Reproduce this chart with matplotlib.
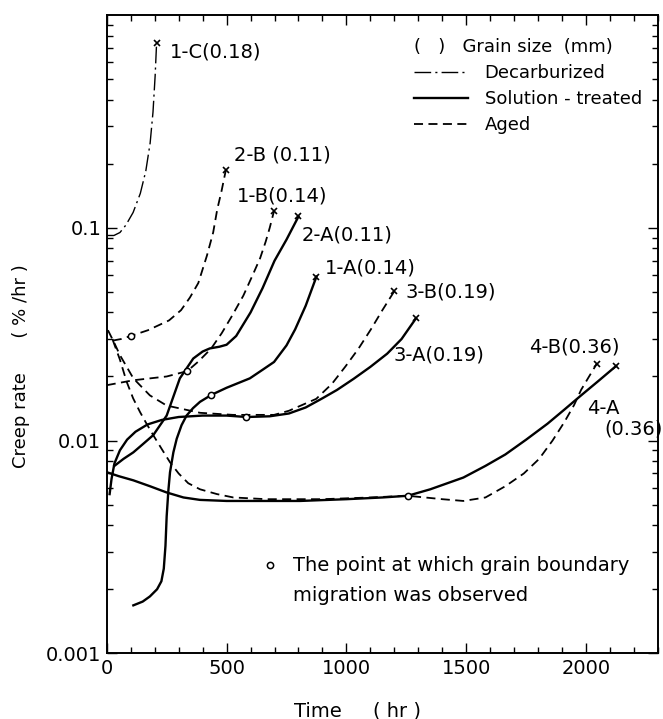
import matplotlib
matplotlib.use("Agg")
import matplotlib.pyplot as plt
from matplotlib.lines import Line2D
from matplotlib.ticker import FixedLocator, NullFormatter, LogLocator, MultipleLocator


# curves: time (hr), creep rate (%/hr)
t_1c = [0, 30, 55, 80, 110, 140, 163, 181, 193, 202, 208]
v_1c = [0.092, 0.092, 0.095, 0.103, 0.118, 0.145, 0.185, 0.25, 0.35, 0.52, 0.74]

t_2b = [25, 60, 100, 172, 260, 310, 347, 382, 418, 444, 461, 479, 497]
v_2b = [0.0295, 0.030, 0.031, 0.033, 0.0367, 0.041, 0.047, 0.055, 0.074,
        0.095, 0.122, 0.149, 0.187]

t_1b = [0, 111, 250, 336, 382, 435, 480, 523, 570, 611, 640, 663, 680, 698]
v_1b = [0.0182, 0.0192, 0.0200, 0.0212, 0.0235, 0.027, 0.032, 0.0386,
        0.048, 0.0607, 0.072, 0.086, 0.100, 0.12]

t_2a = [32, 70, 111, 150, 194, 250, 305, 361, 400, 430, 470, 500, 540,
        600, 650, 700, 750, 800]
v_2a = [0.0076, 0.0082, 0.0088, 0.0096, 0.0106, 0.0131, 0.0196, 0.0243,
        0.0262, 0.0271, 0.0276, 0.0282, 0.031, 0.040, 0.052, 0.070, 0.088,
        0.113]

t_1a = [111, 150, 180, 210, 228, 238, 245, 250, 257, 264, 278, 292, 312,
        333, 360, 389, 437, 500, 597, 650, 698, 750, 786, 830, 875]
v_1a = [0.00168, 0.00175, 0.00185, 0.00200, 0.00218, 0.0025, 0.0032,
        0.0044, 0.0058, 0.0071, 0.0088, 0.0102, 0.0118, 0.0131, 0.0142,
        0.0152, 0.0164, 0.0177, 0.0196, 0.0215, 0.0234, 0.028, 0.0333,
        0.043, 0.059]

t_3b = [5, 30, 55, 111, 180, 250, 389, 527, 698, 760, 874, 940, 996, 1050,
        1102, 1150, 1200]
v_3b = [0.033, 0.029, 0.0252, 0.0196, 0.0163, 0.0146, 0.0135, 0.0132,
        0.0132, 0.0138, 0.0157, 0.0185, 0.0223, 0.027, 0.0333, 0.041, 0.0504]

t_3a = [12, 20, 32, 55, 85, 120, 170, 230, 300, 400, 500, 583, 680, 760,
        830, 900, 961, 1030, 1100, 1170, 1230, 1290]
v_3a = [0.0056, 0.0066, 0.0078, 0.0090, 0.0101, 0.0110, 0.0119, 0.0125,
        0.0129, 0.0131, 0.0131, 0.0129, 0.0130, 0.0134, 0.0143, 0.0158,
        0.0173, 0.0195, 0.0222, 0.0256, 0.0300, 0.0375]

t_4b = [25, 55, 83, 110, 139, 166, 194, 230, 264, 300, 340, 389, 460, 528,
        667, 900, 1100, 1256, 1400, 1488, 1580, 1663, 1740, 1804, 1860,
        1909, 1950, 1979, 2010, 2045]
v_4b = [0.0297, 0.0240, 0.0189, 0.0158, 0.0136, 0.0120, 0.0106, 0.0091,
        0.0079, 0.0070, 0.0063, 0.0059, 0.0056, 0.0054, 0.0053, 0.0053,
        0.0054, 0.0055, 0.0053, 0.0052, 0.0054, 0.0061, 0.0070, 0.0082,
        0.0100, 0.0122, 0.0147, 0.0173, 0.0198, 0.0230]

t_4a = [0, 50, 111, 180, 250, 320, 389, 500, 650, 806, 1000, 1150, 1256,
        1350, 1488, 1580, 1663, 1750, 1839, 1910, 1979, 2050, 2125]
v_4a = [0.0071, 0.0068, 0.0065, 0.0061, 0.0057, 0.0054, 0.00526, 0.0052,
        0.0052, 0.0052, 0.0053, 0.0054, 0.0055, 0.0059, 0.0067, 0.0076,
        0.0086, 0.0101, 0.0120, 0.0140, 0.0163, 0.0190, 0.0224]

# grain boundary migration observed
t_gb = [100, 336, 437, 583, 1256]
v_gb = [0.031, 0.0212, 0.0164, 0.0129, 0.0055]

# label text and where it sits (time, rate)
labels = ["1-C(0.18)", "2-B (0.11)", "1-B(0.14)", "2-A(0.11)", "1-A(0.14)",
          "3-B(0.19)", "3-A(0.19)", "4-B(0.36)", "4-A", "(0.36)"]
label_t = [265, 530, 545, 815, 912, 1248, 1195, 1760, 2005, 2075]
label_v = [0.67, 0.22, 0.141, 0.092, 0.065, 0.050, 0.0252, 0.0274, 0.0141,
           0.01135]

STYLES = {
    "dashdot": dict(color="black", lw=1.0, ls=(0, (12, 3, 1.5, 3))),
    "solid": dict(color="black", lw=1.7, ls="-"),
    "dashed": dict(color="black", lw=1.3, ls=(0, (5, 3))),
}

curves = [
    (t_1c, v_1c, "dashdot"),
    (t_2b, v_2b, "dashed"),
    (t_1b, v_1b, "dashed"),
    (t_2a, v_2a, "solid"),
    (t_1a, v_1a, "solid"),
    (t_3b, v_3b, "dashed"),
    (t_3a, v_3a, "solid"),
    (t_4b, v_4b, "dashed"),
    (t_4a, v_4a, "solid"),
]

fig = plt.figure(figsize=(6.63, 7.19), dpi=100)
ax = fig.add_axes([0.161, 0.0914, 0.8315, 0.8877])

for t, v, style in curves:
    ax.plot(t, v, **STYLES[style])
    ax.plot(t[-1], v[-1], marker="x", ms=5, mew=1.2, color="black", ls="none")

ax.plot(t_gb, v_gb, "o", ms=4.5, mfc="white", mec="black", mew=1.1)

for text, t, v in zip(labels, label_t, label_v):
    ax.text(t, v, text, fontsize=14, va="center", ha="left")

ax.set_yscale("log")
ax.set_xlim(0, 2300)
ax.set_ylim(0.001, 1.0)

ax.xaxis.set_major_locator(FixedLocator([0, 500, 1000, 1500, 2000]))
ax.xaxis.set_minor_locator(MultipleLocator(100))
ax.yaxis.set_major_locator(FixedLocator([0.001, 0.01, 0.1]))
ax.yaxis.set_minor_locator(LogLocator(base=10, subs=range(2, 10)))
ax.yaxis.set_minor_formatter(NullFormatter())
ax.set_yticklabels(["0.001", "0.01", "0.1"])

ax.tick_params(which="both", direction="in", top=True, right=True,
               labelsize=14, width=1.0)
ax.tick_params(which="major", length=7, pad=4)
ax.tick_params(which="minor", length=4)
for s in ax.spines.values():
    s.set_linewidth(1.4)

ax.set_xlabel("Time     ( hr )", fontsize=14)
ax.xaxis.set_label_coords(0.455, -0.075)
ax.set_ylabel("Creep rate      ( % /hr )", fontsize=13)
ax.yaxis.set_label_coords(-0.14, 0.45)

handles = [
    Line2D([], [], **STYLES["dashdot"]),
    Line2D([], [], **STYLES["solid"]),
    Line2D([], [], **STYLES["dashed"]),
]
leg = ax.legend(handles, ["Decarburized", "Solution - treated", "Aged"],
                title="(   )   Grain size  (mm)", title_fontsize=13,
                fontsize=13, loc="upper left", bbox_to_anchor=(0.535, 0.984),
                frameon=False, handlelength=3.0, handletextpad=0.9,
                labelspacing=0.45, alignment="left", borderpad=0.2)

# key for the open circles
ax.plot([0.296], [0.138], "o", ms=4.5, mfc="white", mec="black", mew=1.1,
        transform=ax.transAxes)
ax.text(0.338, 0.138, "The point at which grain boundary",
        transform=ax.transAxes, fontsize=14, va="center")
ax.text(0.338, 0.091, "migration was observed",
        transform=ax.transAxes, fontsize=14, va="center")

plt.savefig("out.png", dpi=100)
